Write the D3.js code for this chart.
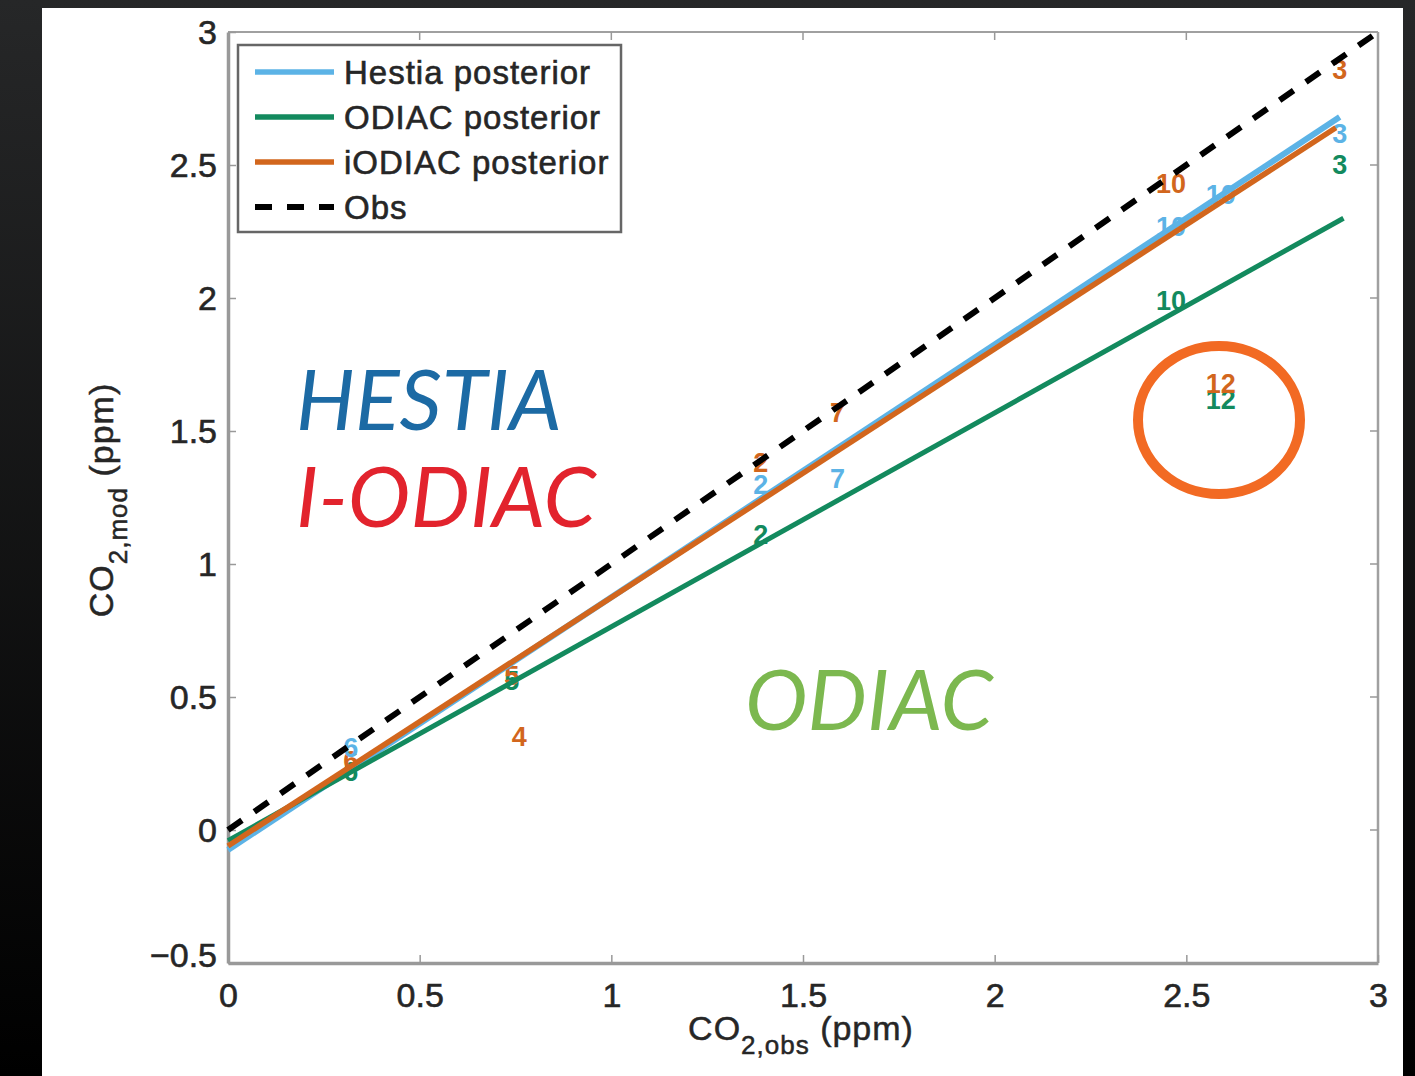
<!DOCTYPE html>
<html><head><meta charset="utf-8">
<script src="https://cdn.jsdelivr.net/npm/d3@7"></script>
<style>html,body{margin:0;padding:0;background:#000;overflow:hidden}</style>
</head><body>
<svg id="c" width="1415" height="1076"></svg>
<script>
// ---- data ----
const xTicks = [0, 0.5, 1, 1.5, 2, 2.5, 3];
const yTicks = [-0.5, 0, 0.5, 1, 1.5, 2, 2.5, 3];
const xTickLabels = ["0", "0.5", "1", "1.5", "2", "2.5", "3"];
const yTickLabels = ["\u22120.5", "0", "0.5", "1", "1.5", "2", "2.5", "3"];
const seriesNames = ["Hestia posterior", "ODIAC posterior", "iODIAC posterior", "Obs"];
// fitted lines (endpoints)
const hestiaLineX = [0, 2.9], hestiaLineY = [-0.075, 2.68];
const odiacLineX = [0, 2.91], odiacLineY = [-0.04, 2.30];
const iodiacLineX = [0, 2.89], iodiacLineY = [-0.06, 2.64];
const obsLineX = [0, 3], obsLineY = [0, 3];
// site number labels
const hestiaLabels = ["6", "2", "7", "10", "10", "3"];
const hestiaX = [0.32, 1.39, 1.59, 2.46, 2.59, 2.90];
const hestiaY = [0.31, 1.30, 1.32, 2.27, 2.39, 2.62];
const iodiacLabels = ["6", "5", "4", "2", "7", "10", "3", "12"];
const iodiacX = [0.32, 0.74, 0.76, 1.39, 1.59, 2.46, 2.90, 2.59];
const iodiacY = [0.26, 0.58, 0.35, 1.38, 1.57, 2.43, 2.86, 1.68];
const odiacLabels = ["6", "5", "2", "10", "12", "3"];
const odiacX = [0.32, 0.74, 1.39, 2.46, 2.59, 2.90];
const odiacY = [0.22, 0.56, 1.11, 1.99, 1.62, 2.50];

const cHestia = "#5cb3e6", cOdiac = "#138a5e", cIodiac = "#d2661d", cObs = "#000";

const svg = d3.select("#c");
const W = 1415, H = 1076;
const defs = svg.append("defs");
const g1 = defs.append("linearGradient").attr("id","bg").attr("x1",0).attr("y1",0).attr("x2",0).attr("y2",1);
g1.append("stop").attr("offset","0%").attr("stop-color","#262728");
g1.append("stop").attr("offset","100%").attr("stop-color","#000");
svg.append("rect").attr("width",W).attr("height",H).attr("fill","url(#bg)");
svg.append("rect").attr("x",42).attr("y",8).attr("width",1361).attr("height",H-8).attr("fill","#fff");

const x = d3.scaleLinear().domain([0,3]).range([228,1378]);
const y = d3.scaleLinear().domain([-0.5,3]).range([963,32]);
const font = "'Liberation Sans', Arial, sans-serif";
const txt = "#262626";

// frame
const frame = svg.append("g");
frame.append("line").attr("x1",x(0)).attr("x2",x(3)).attr("y1",y(3)).attr("y2",y(3)).attr("stroke","#a0a0a0").attr("stroke-width",2);
frame.append("line").attr("x1",x(3)).attr("x2",x(3)).attr("y1",y(3)).attr("y2",y(-0.5)).attr("stroke","#a0a0a0").attr("stroke-width",2.5);
// axes
const ax = svg.append("g").attr("transform",`translate(0,${y(-0.5)})`)
  .call(d3.axisBottom(x).tickValues(xTicks).tickFormat((d,i)=>xTickLabels[i]).tickSizeInner(-8).tickSizeOuter(0).tickPadding(20));
const ay = svg.append("g").attr("transform",`translate(${x(0)},0)`)
  .call(d3.axisLeft(y).tickValues(yTicks).tickFormat((d,i)=>yTickLabels[i]).tickSizeInner(-8).tickSizeOuter(0).tickPadding(11));
[ax, ay].forEach(a=>{
  a.select(".domain").attr("stroke","#999").attr("stroke-width",3.5);
  a.selectAll(".tick line").attr("stroke","#999").attr("stroke-width",1.5);
  a.selectAll(".tick text").attr("fill",txt).attr("stroke",txt).attr("stroke-width",0.6)
    .style("font-family",font).style("font-size","34px");
});
ay.selectAll(".tick text").attr("dy","0.35em");
ay.selectAll(".tick").filter(d=>d===-0.5).select("text").attr("dy","0.1em");
// top/right ticks
svg.append("g").selectAll("line").data(xTicks.slice(1,-1)).join("line")
  .attr("x1",d=>x(d)).attr("x2",d=>x(d)).attr("y1",y(3)).attr("y2",y(3)+8).attr("stroke","#999").attr("stroke-width",1.5);
svg.append("g").selectAll("line").data(yTicks.slice(1,-1)).join("line")
  .attr("x1",x(3)-8).attr("x2",x(3)).attr("y1",d=>y(d)).attr("y2",d=>y(d)).attr("stroke","#999").attr("stroke-width",1.5);

// axis titles
const xt = svg.append("text").attr("x",801).attr("y",1040).attr("text-anchor","middle")
  .style("font-family",font).style("font-size","34px").style("letter-spacing","1px")
  .attr("fill",txt).attr("stroke",txt).attr("stroke-width",0.5);
xt.append("tspan").text("CO");
xt.append("tspan").attr("dy",14).style("font-size","26px").text("2,obs");
xt.append("tspan").attr("dy",-14).text(" (ppm)");
const yt = svg.append("text").attr("transform","translate(113,500) rotate(-90)").attr("text-anchor","middle")
  .style("font-family",font).style("font-size","34px").style("letter-spacing","1px")
  .attr("fill",txt).attr("stroke",txt).attr("stroke-width",0.5);
yt.append("tspan").text("CO");
yt.append("tspan").attr("dy",14).style("font-size","26px").text("2,mod");
yt.append("tspan").attr("dy",-14).text(" (ppm)");

// lines
const lineGen = d3.line().x(d=>x(d[0])).y(d=>y(d[1]));
function drawLine(xs, ys, color, w, dash){
  const p = svg.append("path").datum(d3.zip(xs, ys)).attr("d", lineGen)
    .attr("fill","none").attr("stroke",color).attr("stroke-width",w);
  if (dash) p.attr("stroke-dasharray",dash);
  return p;
}
// labels
function drawLabels(labels, xs, ys, color){
  svg.append("g").selectAll("text").data(labels).join("text")
    .attr("x",(d,i)=>x(xs[i])).attr("y",(d,i)=>y(ys[i]))
    .attr("text-anchor","middle").attr("dy","0.35em")
    .style("font-family",font).style("font-size","27px").style("font-weight","bold")
    .attr("fill",color).text(d=>d);
}
drawLabels(odiacLabels, odiacX, odiacY, cOdiac);
drawLabels(iodiacLabels, iodiacX, iodiacY, cIodiac);
drawLabels(hestiaLabels, hestiaX, hestiaY, cHestia);
drawLine(hestiaLineX, hestiaLineY, cHestia, 6);
drawLine(odiacLineX, odiacLineY, cOdiac, 5);
drawLine(iodiacLineX, iodiacLineY, cIodiac, 5.5);
drawLine(obsLineX, obsLineY, cObs, 6, "17,15");

// legend
const lg = svg.append("g");
lg.append("rect").attr("x",238).attr("y",45).attr("width",383).attr("height",187)
  .attr("fill","#fff").attr("stroke","#666").attr("stroke-width",2.5);
const legColors = [cHestia, cOdiac, cIodiac, cObs];
seriesNames.forEach((n,i)=>{
  const yy = 72 + i*45;
  const l = lg.append("line").attr("x1",255).attr("x2",334).attr("y1",yy).attr("y2",yy)
    .attr("stroke",legColors[i]).attr("stroke-width",i===3?6:5.5);
  if (i===3) l.attr("stroke-dasharray","17,15");
  lg.append("text").attr("x",344).attr("y",yy).attr("dy","0.35em")
    .style("font-family",font).style("font-size","33px").style("letter-spacing","1px")
    .attr("fill",txt).attr("stroke",txt).attr("stroke-width",0.6).text(n);
});

// annotations
const af = "Lato, 'Open Sans', sans-serif";
svg.append("text").attr("x",296).attr("y",430).style("font-family",af).style("font-style","italic")
  .style("font-size","83px").attr("fill","#1c6aa4").text("HESTIA");
svg.append("text").attr("x",296).attr("y",527).style("font-family",af).style("font-style","italic")
  .style("font-size","84px").attr("fill","#e2232d").text("I-ODIAC");
svg.append("text").attr("x",745).attr("y",730).style("font-family",af).style("font-style","italic")
  .style("font-size","84px").attr("fill","#7cb84f").text("ODIAC");
svg.append("ellipse").attr("cx",1219).attr("cy",420).attr("rx",81).attr("ry",74)
  .attr("fill","none").attr("stroke","#f26a23").attr("stroke-width",10);
</script>
</body></html>
